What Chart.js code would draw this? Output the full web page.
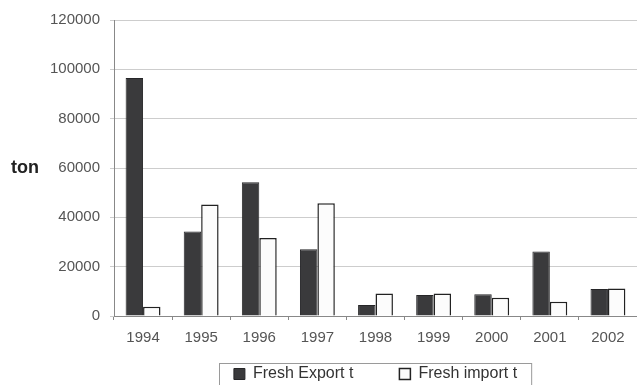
<!DOCTYPE html>
<html>
<head>
<meta charset="utf-8">
<script src="https://cdn.jsdelivr.net/npm/chart.js@4/dist/chart.umd.min.js"></script>
<style>
  html, body { margin: 0; padding: 0; background: #fff; }
  #wrap { width: 637px; height: 385px; }
</style>
</head>
<body>
<div id="wrap"><canvas id="trade" width="637" height="385"></canvas></div>
<script>
// fresh fish trade, tonnes per year
const years = ["1994", "1995", "1996", "1997", "1998", "1999", "2000", "2001", "2002"];
const freshExport = [96500, 34300, 54200, 27100, 4500, 8500, 8800, 26100, 10900];
const freshImport = [3800, 45200, 31600, 45700, 9100, 9100, 7400, 5800, 11100];
const yTicks = [0, 20000, 40000, 60000, 80000, 100000, 120000];

const FONT = "'Liberation Sans', Arial, sans-serif";
const LEGEND_GAP = 46;

// "ton" unit label sitting left of the value axis
const unitLabel = {
  id: "unitLabel",
  afterDraw(chart) {
    const c = chart.ctx;
    const y = chart.scales.y.getPixelForValue(60000);
    c.save();
    c.font = "bold 18px " + FONT;
    c.fillStyle = "#222";
    c.textAlign = "left";
    c.textBaseline = "middle";
    c.fillText("ton", 11, y);
    c.restore();
  },
};

// the legend's label padding doubles as item spacing, so pull the box
// back up over the empty top part of that padding
const legendLift = {
  id: "legendLift",
  afterLayout(chart) {
    const lg = chart.legend;
    if (!lg) return;
    const lift = LEGEND_GAP - 10;
    lg.top -= lift;
    lg.bottom -= lift;
  },
};

// thin frame drawn around the legend items
const legendFrame = {
  id: "legendFrame",
  afterDraw(chart) {
    const boxes = chart.legend.legendHitBoxes;
    if (!boxes || !boxes.length) return;
    const left = Math.min(...boxes.map((b) => b.left)) - 15;
    const right = Math.max(...boxes.map((b) => b.left + b.width)) + 14;
    const top = boxes[0].top - 3;
    const c = chart.ctx;
    c.save();
    c.strokeStyle = "#9a9a9a";
    c.lineWidth = 1;
    c.strokeRect(Math.round(left) + 0.5, Math.round(top) + 0.5, right - left, chart.height - top + 4);
    c.restore();
  },
};

new Chart(document.getElementById("trade"), {
  type: "bar",
  data: {
    labels: years,
    datasets: [
      {
        label: "Fresh Export t",
        data: freshExport,
        backgroundColor: "#3a3a3c",
        borderColor: "#262628",
        borderWidth: 1,
        categoryPercentage: 0.6,
        barPercentage: 1.0,
      },
      {
        label: "Fresh import t",
        data: freshImport,
        backgroundColor: "#fcfcfc",
        borderColor: "#222",
        borderWidth: 1.5,
        categoryPercentage: 0.6,
        barPercentage: 1.0,
      },
    ],
  },
  options: {
    responsive: false,
    animation: false,
    // negative bottom: the lifted legend box would otherwise reserve too much room
    layout: { padding: { top: 20, right: 0, left: 0, bottom: -(LEGEND_GAP - 3) } },
    scales: {
      x: {
        offset: true,
        grid: { display: true, drawOnChartArea: false, tickLength: 4, color: "#888", offset: true },
        border: { color: "#888" },
        ticks: { color: "#555", font: { family: FONT, size: 15 }, padding: 9, maxRotation: 0, autoSkip: false },
        afterFit: (s) => { s.height = 40; },
      },
      y: {
        min: 0,
        max: 120000,
        afterBuildTicks: (s) => { s.ticks = yTicks.map((v) => ({ value: v })); },
        grid: { color: "#cdcdcd", tickLength: 4 },
        border: { color: "#888" },
        ticks: { color: "#555", font: { family: FONT, size: 15 }, padding: 10, callback: (v) => String(v) },
        afterFit: (s) => { s.width = 114; },
      },
    },
    plugins: {
      tooltip: { enabled: false },
      legend: {
        position: "bottom",
        fullSize: false,
        labels: {
          color: "#333",
          font: { family: FONT, size: 16 },
          boxWidth: 11,
          boxHeight: 11,
          padding: LEGEND_GAP,
        },
      },
    },
  },
  plugins: [unitLabel, legendLift, legendFrame],
});
</script>
</body>
</html>
